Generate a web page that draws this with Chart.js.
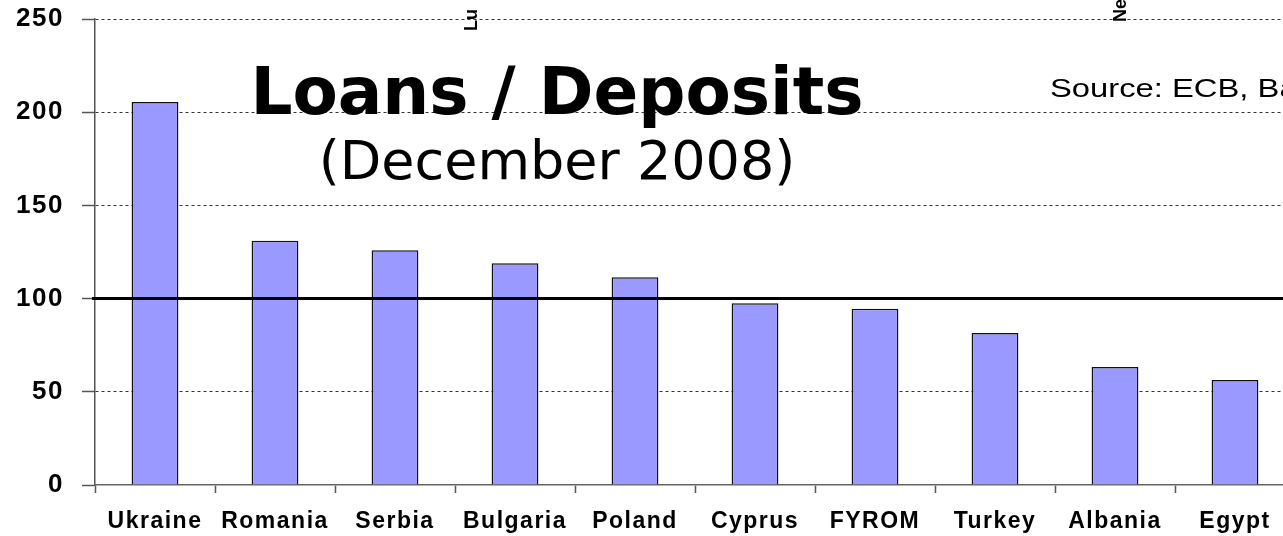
<!DOCTYPE html>
<html>
<head>
<meta charset="utf-8">
<script src="https://cdn.jsdelivr.net/npm/chart.js@4/dist/chart.umd.min.js"></script>
<style>
  html, body { margin: 0; padding: 0; background: #fff; overflow: hidden; }
  #wrap { width: 1300px; height: 536px; }
</style>
</head>
<body>
<div id="wrap"><canvas id="loansChart" width="1300" height="536"></canvas></div>
<script>
// data
var countries = ['Ukraine', 'Romania', 'Serbia', 'Bulgaria', 'Poland', 'Cyprus', 'FYROM', 'Turkey', 'Albania', 'Egypt'];
var loansToDeposits = [205.5, 131, 126, 119, 111.5, 97.5, 94.5, 81.5, 63.3, 56.3];
var yTicks = [0, 50, 100, 150, 200, 250];
var refLine = 100;
var titleText = 'Loans / Deposits';
var subtitleText = '(December 2008)';
var sourceText = 'Source: ECB, Ba';
var cutLabels = ['Lu', 'Ne'];

// the original tick labels are a bit wider than Arial, fake it with spacing
var spacing = {
  id: 'spacing',
  beforeDraw: function(chart) { chart.ctx.letterSpacing = '1.5px'; }
};

// extra text + the 100 line, drawn on top of the bars
var overlay = {
  id: 'overlay',
  afterDatasetsDraw: function(chart) {
    var ctx = chart.ctx;
    var y = chart.scales.y;
    var area = chart.chartArea;
    var py = y.getPixelForValue(refLine);
    ctx.save();
    ctx.letterSpacing = '0px';
    ctx.strokeStyle = '#000';
    ctx.lineWidth = 3;
    ctx.beginPath();
    ctx.moveTo(area.left - 3, py);
    ctx.lineTo(area.right, py);
    ctx.stroke();

    ctx.fillStyle = '#000';
    ctx.textAlign = 'center';
    ctx.textBaseline = 'alphabetic';
    ctx.font = 'bold 66px "DejaVu Sans"';
    ctx.fillText(titleText, 557, 114);
    ctx.font = '54px "DejaVu Sans"';
    ctx.fillText(subtitleText, 557, 179);

    ctx.textAlign = 'left';
    ctx.font = '26px "Liberation Sans"';
    ctx.save();
    ctx.translate(1050, 97);
    ctx.scale(1.26, 1);
    ctx.fillText(sourceText, 0, 0);
    ctx.restore();

    // labels cut off at the top edge
    ctx.font = 'bold 18px "Liberation Sans"';
    ctx.save();
    ctx.translate(477, 31);
    ctx.rotate(-Math.PI / 2);
    ctx.fillText(cutLabels[0], 0, 0);
    ctx.restore();
    ctx.save();
    ctx.translate(1126, 22);
    ctx.rotate(-Math.PI / 2);
    ctx.fillText(cutLabels[1], 0, 0);
    ctx.restore();
    ctx.restore();
  }
};

var ctx = document.getElementById('loansChart').getContext('2d');
new Chart(ctx, {
  type: 'bar',
  data: {
    labels: countries,
    datasets: [{
      label: 'Loans / Deposits',
      data: loansToDeposits,
      backgroundColor: '#9999ff',
      borderColor: '#111',
      borderWidth: 1.5,
      borderSkipped: 'bottom',
      barPercentage: 0.39,
      categoryPercentage: 1
    }]
  },
  options: {
    responsive: false,
    animation: false,
    devicePixelRatio: 1,
    layout: { padding: { top: 19, right: 5, left: 0, bottom: 0 } },
    plugins: {
      legend: { display: false },
      tooltip: { enabled: false }
    },
    scales: {
      x: {
        afterFit: function(s) {
          s.height = 51;
          s.paddingLeft = 0;
          s.paddingRight = 0;
        },
        grid: {
          offset: true,
          drawOnChartArea: false,
          tickLength: 8,
          tickColor: '#555',
          tickWidth: 1.5
        },
        border: { color: '#666', width: 1.5 },
        ticks: {
          color: '#000',
          padding: 15,
          maxRotation: 0,
          autoSkip: false,
          font: { family: '"Liberation Sans"', size: 23, weight: 'bold' }
        }
      },
      y: {
        min: 0,
        max: 250,
        afterFit: function(s) {
          s.width = 95;
          s.paddingTop = 0;
          s.paddingBottom = 0;
        },
        afterBuildTicks: function(s) { s.ticks = yTicks.map(function(v) { return { value: v }; }); },
        grid: {
          color: function(c) { return c.tick && c.tick.value === 0 ? 'rgba(0,0,0,0)' : '#333'; },
          lineWidth: 1,
          tickLength: 13,
          tickColor: '#555',
          tickWidth: 1.5,
          tickBorderDash: []
        },
        border: { color: '#555', width: 1.5, dash: [3, 3] },
        ticks: {
          color: '#000',
          padding: 18,
          font: { family: '"Liberation Sans"', size: 26, weight: 'bold', lineHeight: 1 }
        }
      }
    }
  },
  plugins: [spacing, overlay]
});
</script>
</body>
</html>
